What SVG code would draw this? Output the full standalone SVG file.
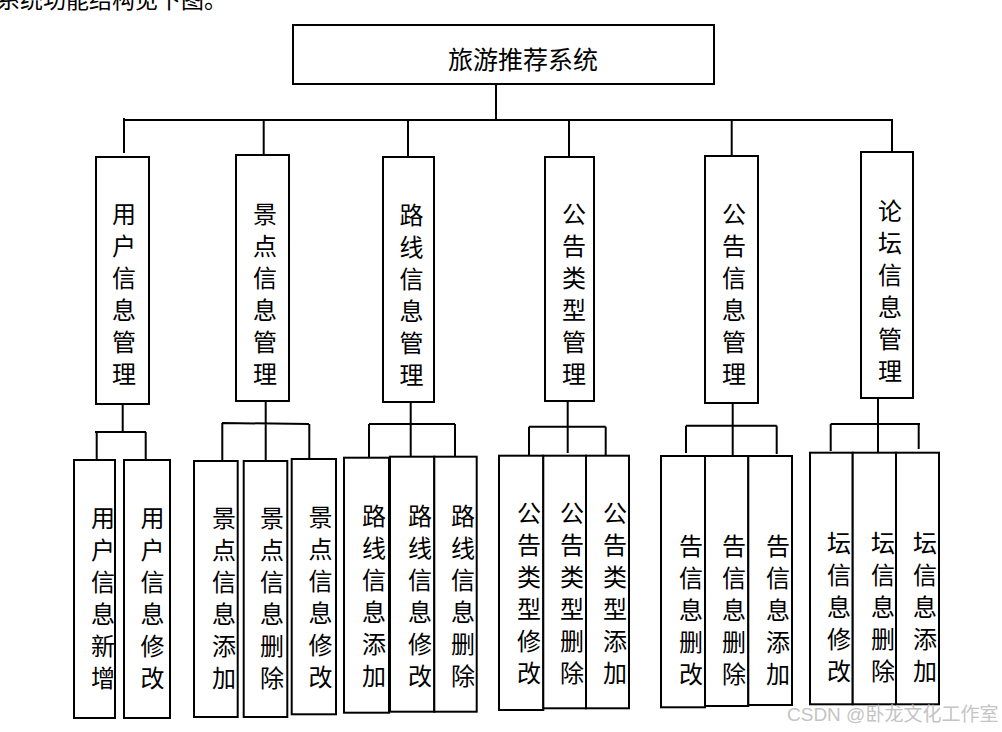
<svg xmlns="http://www.w3.org/2000/svg" width="1002" height="732" viewBox="0 0 1002 732">
<style>
.box{fill:#fff;stroke:#000;stroke-width:2}
.ln{fill:none;stroke:#000;stroke-width:2}
.t{font-family:"Noto Sans CJK SC","Noto Sans",sans-serif;fill:#000;text-anchor:middle}
.m{font-size:24px}
.wm{font-family:"Liberation Sans","Noto Sans CJK SC",sans-serif;font-size:19px;fill:#c4c4c4}
</style>
<rect width="1002" height="732" fill="#fff"/>
<text x="-3" y="8" font-family="Noto Sans CJK SC, sans-serif" font-size="23" fill="#000">系统功能结构见下图。</text>

<g id="connectors">
<path class="ln" d="M496,84V120M125,120H893M124,118V153M263.7,120V155M408,120V157M569,120V157M731.7,120V156M892,120V152"/>
<path class="ln" d="M122.7,404V432M95,432H146M96.7,432V459M145.7,432V461"/>
<path class="ln" d="M265.7,401V461M222,423L309,424M222.3,423V460M309.3,424V458"/>
<path class="ln" d="M410.7,402V456M369,424H455M369,424V457M455,424V457"/>
<path class="ln" d="M567.7,401V453M529,426.7H605.7M529,426.7V455M605.7,426.7V455"/>
<path class="ln" d="M732.7,403V456M686,425.7H776.7M686,425.7V453M776.7,425.7V454"/>
<path class="ln" d="M878,398V452M830.7,424H920M830.7,424V451M918.7,424V449"/>
</g>

<g id="root">
<rect class="box" x="293" y="25" width="421" height="59"/>
<text class="t" x="523" y="69" font-size="25">旅游推荐系统</text>
</g>

<g id="n1"><rect class="box" x="96" y="157" width="53" height="247"/>
<text class="t m"><tspan x="124" y="223">用</tspan><tspan x="124" dy="32">户</tspan><tspan x="124" dy="32">信</tspan><tspan x="124" dy="32">息</tspan><tspan x="124" dy="32">管</tspan><tspan x="124" dy="32">理</tspan></text></g>
<g id="n2"><rect class="box" x="236" y="155" width="53" height="246"/>
<text class="t m"><tspan x="265" y="223">景</tspan><tspan x="265" dy="32">点</tspan><tspan x="265" dy="32">信</tspan><tspan x="265" dy="32">息</tspan><tspan x="265" dy="32">管</tspan><tspan x="265" dy="32">理</tspan></text></g>
<g id="n3"><rect class="box" x="383" y="157" width="51" height="245"/>
<text class="t m"><tspan x="411.5" y="224">路</tspan><tspan x="411.5" dy="32">线</tspan><tspan x="411.5" dy="32">信</tspan><tspan x="411.5" dy="32">息</tspan><tspan x="411.5" dy="32">管</tspan><tspan x="411.5" dy="32">理</tspan></text></g>
<g id="n4"><rect class="box" x="545" y="157" width="49" height="244"/>
<text class="t m"><tspan x="574" y="223">公</tspan><tspan x="574" dy="32">告</tspan><tspan x="574" dy="32">类</tspan><tspan x="574" dy="32">型</tspan><tspan x="574" dy="32">管</tspan><tspan x="574" dy="32">理</tspan></text></g>
<g id="n5"><rect class="box" x="705" y="156" width="53" height="247"/>
<text class="t m"><tspan x="734" y="223">公</tspan><tspan x="734" dy="32">告</tspan><tspan x="734" dy="32">信</tspan><tspan x="734" dy="32">息</tspan><tspan x="734" dy="32">管</tspan><tspan x="734" dy="32">理</tspan></text></g>
<g id="n6"><rect class="box" x="861" y="152" width="52" height="246"/>
<text class="t m"><tspan x="890" y="220">论</tspan><tspan x="890" dy="32">坛</tspan><tspan x="890" dy="32">信</tspan><tspan x="890" dy="32">息</tspan><tspan x="890" dy="32">管</tspan><tspan x="890" dy="32">理</tspan></text></g>

<g id="l1a"><rect class="box" x="74" y="460" width="41" height="258"/>
<text class="t m"><tspan x="103" y="527">用</tspan><tspan x="103" dy="32">户</tspan><tspan x="103" dy="32">信</tspan><tspan x="103" dy="32">息</tspan><tspan x="103" dy="32">新</tspan><tspan x="103" dy="32">增</tspan></text></g>
<g id="l1b"><rect class="box" x="124" y="460" width="46" height="258"/>
<text class="t m"><tspan x="152.5" y="527">用</tspan><tspan x="152.5" dy="32">户</tspan><tspan x="152.5" dy="32">信</tspan><tspan x="152.5" dy="32">息</tspan><tspan x="152.5" dy="32">修</tspan><tspan x="152.5" dy="32">改</tspan></text></g>

<g id="l2a"><rect class="box" x="194" y="461" width="43.7" height="256"/>
<text class="t m"><tspan x="224" y="527">景</tspan><tspan x="224" dy="32">点</tspan><tspan x="224" dy="32">信</tspan><tspan x="224" dy="32">息</tspan><tspan x="224" dy="32">添</tspan><tspan x="224" dy="32">加</tspan></text></g>
<g id="l2b"><rect class="box" x="243.7" y="461" width="43.6" height="256"/>
<text class="t m"><tspan x="272" y="527">景</tspan><tspan x="272" dy="32">点</tspan><tspan x="272" dy="32">信</tspan><tspan x="272" dy="32">息</tspan><tspan x="272" dy="32">删</tspan><tspan x="272" dy="32">除</tspan></text></g>
<g id="l2c"><rect class="box" x="291.7" y="459" width="44.3" height="255.3"/>
<text class="t m"><tspan x="320.5" y="526">景</tspan><tspan x="320.5" dy="32">点</tspan><tspan x="320.5" dy="32">信</tspan><tspan x="320.5" dy="32">息</tspan><tspan x="320.5" dy="32">修</tspan><tspan x="320.5" dy="32">改</tspan></text></g>

<g id="l3a"><rect class="box" x="344" y="457.7" width="45" height="255"/>
<text class="t m"><tspan x="374" y="525">路</tspan><tspan x="374" dy="32">线</tspan><tspan x="374" dy="32">信</tspan><tspan x="374" dy="32">息</tspan><tspan x="374" dy="32">添</tspan><tspan x="374" dy="32">加</tspan></text></g>
<g id="l3b"><rect class="box" x="390" y="456.7" width="44.3" height="255"/>
<text class="t m"><tspan x="420" y="525">路</tspan><tspan x="420" dy="32">线</tspan><tspan x="420" dy="32">信</tspan><tspan x="420" dy="32">息</tspan><tspan x="420" dy="32">修</tspan><tspan x="420" dy="32">改</tspan></text></g>
<g id="l3c"><rect class="box" x="434.3" y="456.7" width="42.4" height="255"/>
<text class="t m"><tspan x="463" y="525">路</tspan><tspan x="463" dy="32">线</tspan><tspan x="463" dy="32">信</tspan><tspan x="463" dy="32">息</tspan><tspan x="463" dy="32">删</tspan><tspan x="463" dy="32">除</tspan></text></g>

<g id="l4a"><rect class="box" x="499" y="455.7" width="44.3" height="254.3"/>
<text class="t m"><tspan x="529" y="522">公</tspan><tspan x="529" dy="32">告</tspan><tspan x="529" dy="32">类</tspan><tspan x="529" dy="32">型</tspan><tspan x="529" dy="32">修</tspan><tspan x="529" dy="32">改</tspan></text></g>
<g id="l4b"><rect class="box" x="543.3" y="455.7" width="42.7" height="252.6"/>
<text class="t m"><tspan x="572" y="522">公</tspan><tspan x="572" dy="32">告</tspan><tspan x="572" dy="32">类</tspan><tspan x="572" dy="32">型</tspan><tspan x="572" dy="32">删</tspan><tspan x="572" dy="32">除</tspan></text></g>
<g id="l4c"><rect class="box" x="586" y="455.7" width="43" height="252.6"/>
<text class="t m"><tspan x="615" y="522">公</tspan><tspan x="615" dy="32">告</tspan><tspan x="615" dy="32">类</tspan><tspan x="615" dy="32">型</tspan><tspan x="615" dy="32">添</tspan><tspan x="615" dy="32">加</tspan></text></g>

<g id="l5a"><rect class="box" x="661" y="456" width="44" height="251.3"/>
<text class="t m"><tspan x="691" y="555">告</tspan><tspan x="691" dy="32">信</tspan><tspan x="691" dy="32">息</tspan><tspan x="691" dy="32">删</tspan><tspan x="691" dy="32">改</tspan></text></g>
<g id="l5b"><rect class="box" x="705" y="456" width="43.3" height="250"/>
<text class="t m"><tspan x="734" y="555">告</tspan><tspan x="734" dy="32">信</tspan><tspan x="734" dy="32">息</tspan><tspan x="734" dy="32">删</tspan><tspan x="734" dy="32">除</tspan></text></g>
<g id="l5c"><rect class="box" x="748.3" y="456" width="43.7" height="249"/>
<text class="t m"><tspan x="778" y="555">告</tspan><tspan x="778" dy="32">信</tspan><tspan x="778" dy="32">息</tspan><tspan x="778" dy="32">添</tspan><tspan x="778" dy="32">加</tspan></text></g>

<g id="l6a"><rect class="box" x="810" y="452.7" width="42.7" height="251.6"/>
<text class="t m"><tspan x="839" y="552">坛</tspan><tspan x="839" dy="32">信</tspan><tspan x="839" dy="32">息</tspan><tspan x="839" dy="32">修</tspan><tspan x="839" dy="32">改</tspan></text></g>
<g id="l6b"><rect class="box" x="852.7" y="452.7" width="43.3" height="251.6"/>
<text class="t m"><tspan x="883" y="552">坛</tspan><tspan x="883" dy="32">信</tspan><tspan x="883" dy="32">息</tspan><tspan x="883" dy="32">删</tspan><tspan x="883" dy="32">除</tspan></text></g>
<g id="l6c"><rect class="box" x="896" y="452.7" width="43" height="251.6"/>
<text class="t m"><tspan x="925" y="552">坛</tspan><tspan x="925" dy="32">信</tspan><tspan x="925" dy="32">息</tspan><tspan x="925" dy="32">添</tspan><tspan x="925" dy="32">加</tspan></text></g>

<text class="wm" x="787" y="721">CSDN @卧龙文化工作室</text>
</svg>
